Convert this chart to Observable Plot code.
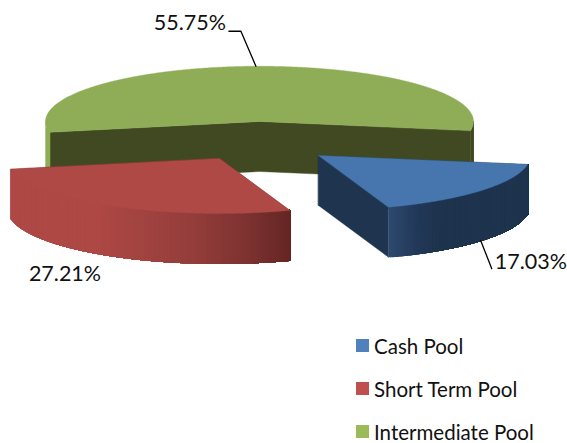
<!DOCTYPE html>
<html><head><meta charset="utf-8">
<script src="https://cdn.jsdelivr.net/npm/d3@7"></script>
<script src="https://cdn.jsdelivr.net/npm/@observablehq/plot@0.6"></script>
<style>
html,body{margin:0;padding:0;background:#fff;overflow:hidden;width:567px;height:443px}
svg{display:block}
#legend{height:119px;overflow:hidden;padding-left:356px;font-family:Lato,sans-serif;font-size:20.5px;color:#111}
#legend div{height:43px;display:flex;align-items:center}
#legend i{display:block;width:13px;height:13px;margin-right:5px}
</style></head><body>
<div id="chart"></div><div id="legend"></div>
<script>
// Data
const categories = ["Cash Pool", "Short Term Pool", "Intermediate Pool"];
const shares = [17.03, 27.21, 55.75];
const labels = ["17.03%", "27.21%", "55.75%"];
// Colours
const legendColors = ["#4F81BD", "#C0504D", "#9BBB59"];
const topColors = ["#4776AE", "#AF4946", "#8FAD56"];
const faceColors = ["#1F344E", "#662725", "#404921"];
const wallStops = [
  [[0, "#2E4A6E"], [0.2, "#23395A"], [0.35, "#1F344E"], [1, "#1F344E"]],
  [[0, "#AF4946"], [0.3, "#AF4946"], [0.65, "#943E3B"], [0.85, "#7D3331"], [1, "#642624"]],
  [[0, "#8FAD56"], [0.5, "#8FAD56"], [0.51, "#404921"], [1, "#404921"]]
];
// Projection of the tilted pie
const rotation = 99.4 * Math.PI / 180;
const centers = [[318, 155], [219, 158], [259, 121]];
const radii = [212, 213, 214];
const flatten = 55 / 213;
const depth = 50;

const arcs = d3.pie().sort(null).startAngle(rotation).endAngle(rotation + 2 * Math.PI)(shares);
const at = (i, theta, dz = 0) => [
  centers[i][0] + radii[i] * Math.cos(theta),
  centers[i][1] + radii[i] * flatten * Math.sin(theta) + dz
];
const polys = [];
let nextId = 0;
const add = (pts, c) => { const id = nextId++; pts.forEach(p => polys.push({id, x: p[0], y: p[1], c})); };

// Painter's order: the back slice first, the front slices over it
[2, 1, 0].forEach(i => {
  const a = arcs[i];
  const t0 = a.startAngle - Math.PI / 2, t1 = a.endAngle - Math.PI / 2;
  const [cx, cy] = centers[i];
  if (t1 - t0 > Math.PI) {
    // a reflex slice shows both cut faces side by side: one shape, so no seam at the apex
    add([at(i, t0), [cx, cy], at(i, t1), at(i, t1, depth), [cx, cy + depth], at(i, t0, depth)], faceColors[i]);
  } else {
    for (const t of [t0, t1]) add([[cx, cy], at(i, t), at(i, t, depth), [cx, cy + depth]], faceColors[i]);
  }
  const n = Math.ceil((t1 - t0) / 0.005);
  const thetas = d3.range(n + 1).map(k => t0 + (t1 - t0) * k / n);
  const front = t => Math.sin(t) >= -1e-3;
  // outer wall, split into runs on the front of the pie; each step paints through to the end of its run
  const runs = [];
  let run = null;
  for (const t of thetas) {
    if (front(t)) { if (!run) runs.push(run = []); run.push(t); } else run = null;
  }
  const xs = runs.flat().map(t => at(i, t)[0]);
  const [xmin, xmax] = d3.extent(xs);
  const stops = wallStops[i];
  const ramp = d3.scaleLinear().domain(stops.map(s => s[0])).range(stops.map(s => s[1])).interpolate(d3.interpolateRgb);
  for (const r of runs) {
    // walk from the left end of the wall to the right
    const ordered = at(i, r[0])[0] < at(i, r[r.length - 1])[0] ? r : r.slice().reverse();
    let lastX = -Infinity;
    ordered.forEach((t, k) => {
      const x = at(i, t)[0];
      if (x - lastX < 1.5 && k < ordered.length - 1) return;
      lastX = x;
      const rest = ordered.slice(k);
      add([...rest.map(u => at(i, u)), ...rest.slice().reverse().map(u => at(i, u, depth))], ramp((x - xmin) / (xmax - xmin)));
    });
  }
  // top
  add([[cx, cy], ...thetas.map(t => at(i, t))], topColors[i]);
});

// Label placement relative to each slice's mid-angle rim point
const mid = a => (a.startAngle + a.endAngle) / 2 - Math.PI / 2;
const rimBlue = at(0, mid(arcs[0]), depth);
const rimGreen = at(2, mid(arcs[2]));
const rimRed = at(1, mid(arcs[1]), depth);
const leaders = [
  {k: 0, x: rimBlue[0], y: rimBlue[1]},
  {k: 0, x: rimBlue[0] + 11, y: rimBlue[1] + 28},
  {k: 2, x: rimGreen[0], y: rimGreen[1]},
  {k: 2, x: rimGreen[0] - 15, y: rimGreen[1] - 35},
  {k: 2, x: rimGreen[0] - 27, y: rimGreen[1] - 35}
];
const textStyle = {x: "x", y: "y", text: "t", fontFamily: "Lato, sans-serif", fontSize: 21.5, fill: "#111"};

const plot = Plot.plot({
  width: 567, height: 324,
  margin: 0,
  x: {domain: [0, 567], range: [0, 567], axis: null},
  y: {domain: [0, 324], range: [0, 324], axis: null},
  color: {type: "identity"},
  style: {background: "#fff"},
  marks: [
    Plot.line(polys, {x: "x", y: "y", z: "id", fill: "c", stroke: "c", strokeWidth: 0.4, curve: "linear-closed"}),
    Plot.line(leaders, {x: "x", y: "y", z: "k", stroke: "#000", strokeWidth: 1.3}),
    Plot.text([{t: labels[0], x: rimBlue[0] + 14, y: rimBlue[1] + 21}], {...textStyle, textAnchor: "start"}),
    Plot.text([{t: labels[1], x: rimRed[0] - 49, y: rimRed[1] + 18}], {...textStyle, textAnchor: "middle"}),
    Plot.text([{t: labels[2], x: rimGreen[0] - 30, y: rimGreen[1] - 43}], {...textStyle, textAnchor: "end"})
  ]
});
document.getElementById("chart").append(plot);

const legend = d3.select("#legend");
categories.forEach((c, i) => {
  const r = legend.append("div");
  r.append("i").style("background", legendColors[i]);
  r.append("span").text(c);
});
</script>
</body></html>
